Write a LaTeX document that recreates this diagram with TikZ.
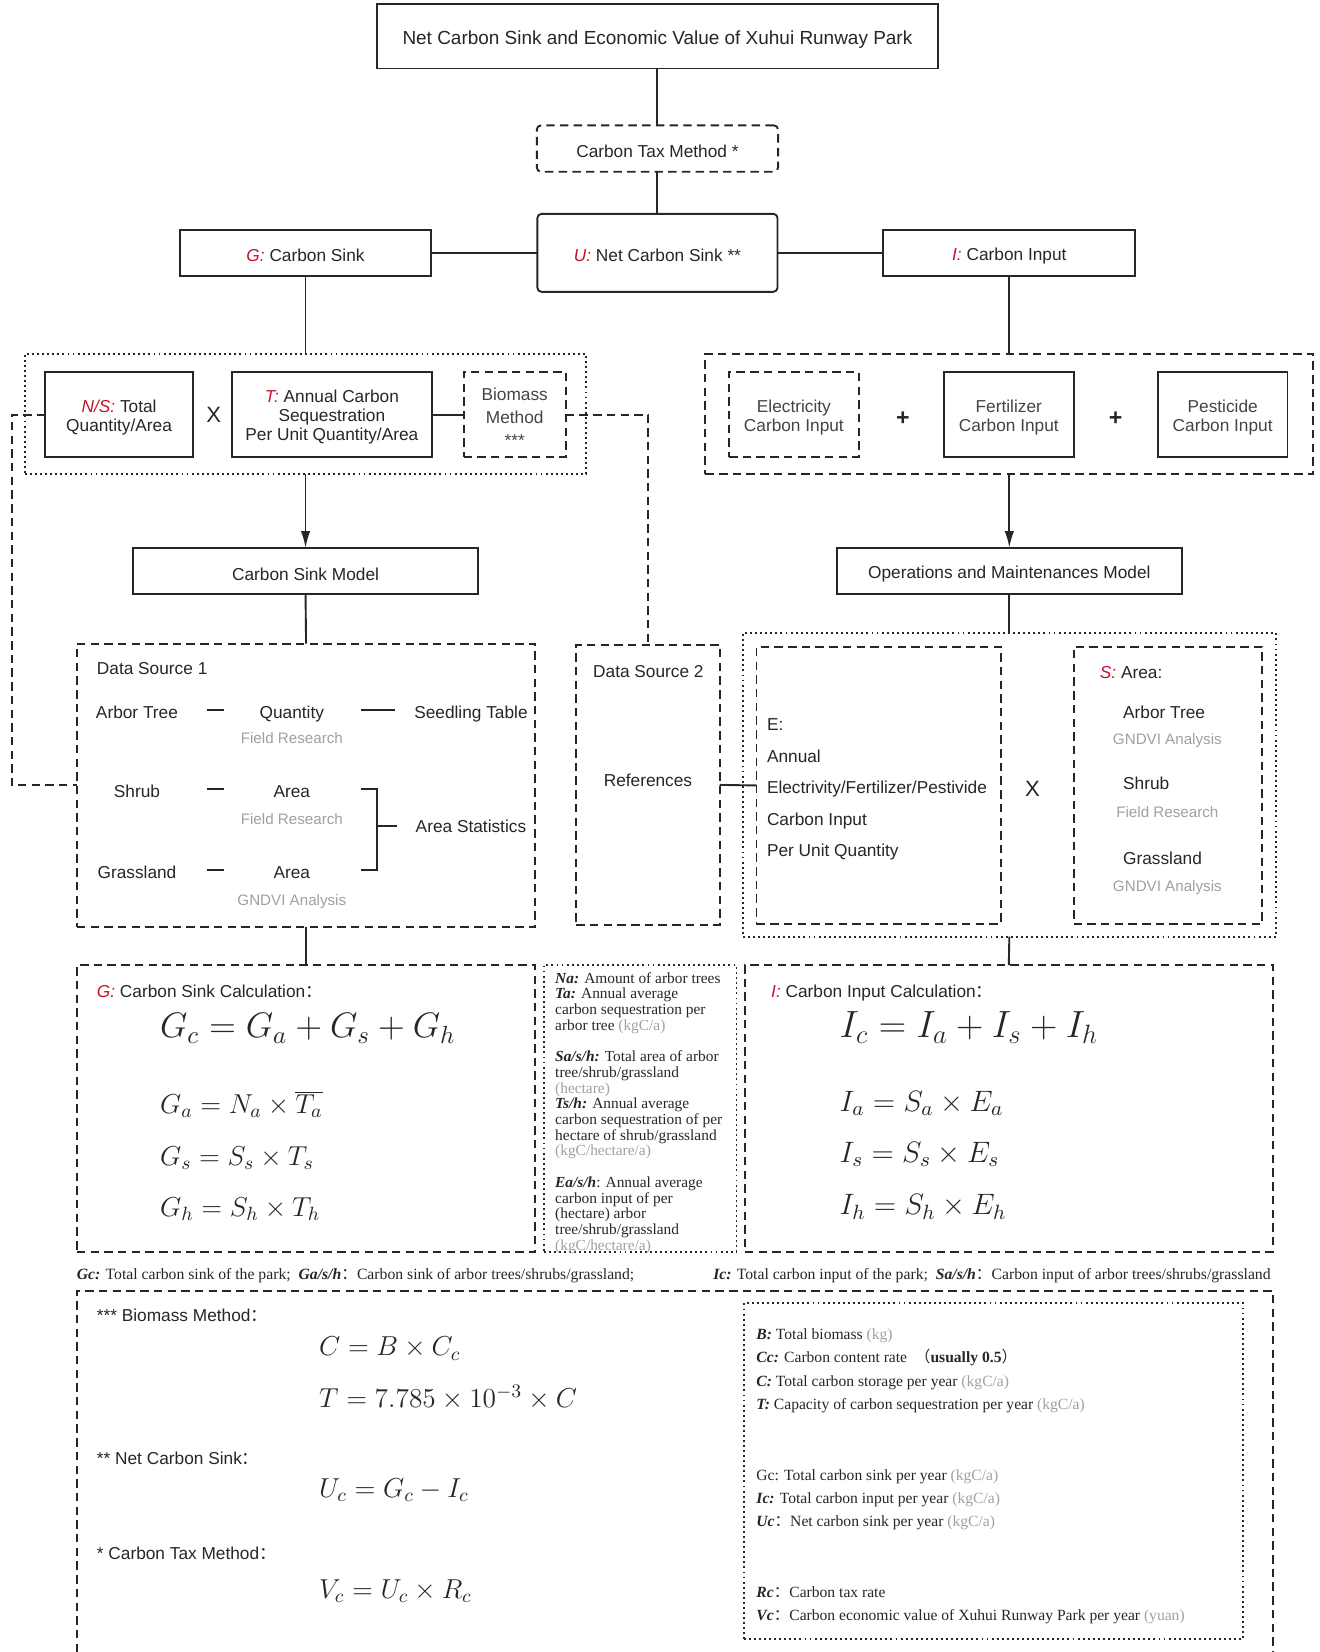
\RequirePackage{fix-cm}
\documentclass[tikz,border=0pt]{standalone}
\usepackage{fontspec}
\setmainfont{Liberation Serif}
\setsansfont{Liberation Sans}
\newfontfamily\cjk{Noto Sans CJK SC}
\usetikzlibrary{arrows.meta}
\definecolor{ink}{HTML}{262626}
\definecolor{redk}{HTML}{C8102E}
\definecolor{graytxt}{HTML}{A0A0A0}
\definecolor{midtxt}{HTML}{444444}
\newcommand\fsz[2]{\fontsize{#1}{#2}\selectfont}
\newcommand\rd[1]{{\color{redk}\itshape #1}}
\newcommand\fc{{\cjk ：}}
\newcommand\bi[1]{\textbf{\textit{#1}}}
\newcommand\gy[1]{{\color{graytxt}#1}}
\newcommand\sdn{\rule{0pt}{8.6pt}}
\begin{document}
\begin{tikzpicture}[x=0.5pt,y=-0.5pt,
  every node/.style={inner sep=0pt, outer sep=0pt, text=ink, font=\sffamily\fsz{8.2}{10}},
  bx/.style 2 args={minimum width=#1*0.5pt, minimum height=#2*0.5pt},
  solidbox/.style={draw=ink, line width=0.9pt, align=center},
  dashbox/.style={draw=ink, line width=0.9pt, dash pattern=on 4pt off 2.5pt, align=center},
  dotbox/.style={draw=ink, line width=0.9pt, dash pattern=on 0.9pt off 1.5pt},
  conn/.style={draw=ink, line width=0.9pt},
  thinconn/.style={draw=ink, line width=0.75pt},
  dconn/.style={conn, dash pattern=on 4pt off 2.5pt},
  arr/.style={conn, -{Latex[length=8pt,width=4.5pt]}},
  lbl/.style={anchor=mid west, yshift=-1pt},
  clbl/.style={anchor=mid, yshift=-1pt},
  glbl/.style={anchor=mid, yshift=-1pt, text=graytxt, font=\sffamily\fsz{7.2}{9}},
  eq/.style={anchor=mid west, yshift=-1.2pt, font=\fsz{13}{15}},
  bigeq/.style={anchor=mid west, yshift=-1.2pt, font=\fsz{16.8}{19}},
  sym/.style={anchor=mid, yshift=-1pt, font=\sffamily\fsz{10.5}{12}},
  note/.style={anchor=mid west, yshift=-0.8pt, font=\rmfamily\fsz{7.4}{9}}
]
\useasboundingbox (0,0) rectangle (1252,1568);

% ---------- top ----------
\node[solidbox, bx={533}{61}, font=\sffamily\fsz{9}{11}] (title) at (624,34.5) {\rule{0pt}{9.4pt}Net Carbon Sink and Economic Value of Xuhui Runway Park};
\node[dashbox, rounded corners=2pt, bx={229}{44}] (tax) at (624,141) {\sdn Carbon Tax Method *};
\node[solidbox, rounded corners=2pt, bx={228}{74}] (U) at (624,240) {\sdn\rd{U:} Net Carbon Sink **};
\node[solidbox, bx={239}{44}] (G) at (290,240) {\sdn\rd{G:} Carbon Sink};
\node[solidbox, bx={239}{44}] (I) at (958,240) {\sdn\rd{I:} Carbon Input};

% ---------- left group ----------
\node[dotbox, bx={533}{114}] (lg) at (290,393) {};
\node[solidbox, bx={140}{81}, font=\sffamily\fsz{8.2}{9}] (NS) at (113,393.5) {\sdn\rd{N/S:} Total\\Quantity/Area};
\node[sym] (x1) at (203,394) {X};
\node[solidbox, bx={190}{81}, font=\sffamily\fsz{8.2}{9}] (T) at (315,393.5) {\sdn\rd{T:} Annual Carbon\\Sequestration\\Per Unit Quantity/Area};
\node[dashbox, bx={97}{81}, text=midtxt, font=\sffamily\fsz{8.2}{10.8}] (bio) at (488.5,393.5) {\sdn Biomass\\Method\\***};

% ---------- right group ----------
\node[dashbox, bx={577}{114}] (rg) at (958,393) {};
\node[dashbox, bx={123}{81}, text=midtxt, font=\sffamily\fsz{8.2}{9}] (elec) at (753.5,393.5) {\sdn Electricity\\Carbon Input};
\node[sym, font=\sffamily\bfseries\fsz{11}{12}] (p1) at (857,397) {+};
\node[solidbox, bx={123}{81}, text=midtxt, font=\sffamily\fsz{8.2}{9}] (fert) at (957.5,393.5) {\sdn Fertilizer\\Carbon Input};
\node[sym, font=\sffamily\bfseries\fsz{11}{12}] (p2) at (1059,397) {+};
\node[solidbox, bx={123}{81}, text=midtxt, font=\sffamily\fsz{8.2}{9}] (pest) at (1160.5,393.5) {\sdn Pesticide\\Carbon Input};

% ---------- models ----------
\node[solidbox, bx={327}{44}] (csm) at (290,542) {\sdn Carbon Sink Model};
\node[solidbox, bx={327}{44}] (omm) at (958,542) {\sdn Operations and Maintenances Model};

% ---------- data source 1 ----------
\node[dashbox, bx={435}{269}] (ds1) at (290.5,745.5) {};
\node[lbl] (ds1t) at (92,634) {Data Source 1};
\node[clbl] (at1) at (130,675) {Arbor Tree};
\node[clbl] (sh1) at (130,750) {Shrub};
\node[clbl] (gr1) at (130,827) {Grassland};
\node[clbl] (q1) at (277,675) {Quantity};
\node[glbl] (fr1) at (277,699) {Field Research};
\node[clbl] (a1) at (277,750) {Area};
\node[glbl] (fr2) at (277,776) {Field Research};
\node[clbl] (a2) at (277,827) {Area};
\node[glbl] (gn1) at (277,853) {GNDVI Analysis};
\node[clbl] (seed) at (447,675) {Seedling Table};
\node[clbl] (ast) at (447,784) {Area Statistics};
\draw[thinconn] (196,674) -- (213,674);
\draw[thinconn] (196,749) -- (213,749);
\draw[thinconn] (196,826) -- (213,826);
\draw[thinconn] (343,674) -- (375,674);
\draw[thinconn] (343,749) -- (358,749) -- (358,826) -- (343,826);
\draw[thinconn] (358,784) -- (377,784);

% ---------- data source 2 ----------
\node[dashbox, bx={136}{266}] (ds2) at (615,745) {};
\node[lbl] (ds2t) at (563,636) {Data Source 2};
\node[clbl] (refs) at (615,740) {References};

% ---------- E x S ----------
\node[dotbox, bx={506}{288}] (rg2) at (958,745) {};
\node[dashbox, bx={232}{263}] (E) at (834,745.5) {};
\node[lbl] (e1) at (728,687) {E:};
\node[lbl] (e2) at (728,717) {Annual};
\node[lbl] (e3) at (728,747) {Electrivity/Fertilizer/Pestivide};
\node[lbl] (e4) at (728,777) {Carbon Input};
\node[lbl] (e5) at (728,806) {Per Unit Quantity};
\node[sym] (x2) at (980,749) {X};
\node[dashbox, bx={179}{263}] (S) at (1108.5,745.5) {};
\node[lbl] (s0) at (1044,637) {\rd{S:} Area:};
\node[lbl] (s1) at (1066,675) {Arbor Tree};
\node[glbl] (s1g) at (1108,700) {GNDVI Analysis};
\node[lbl] (s2) at (1066,743) {Shrub};
\node[glbl] (s2g) at (1108,769) {Field Research};
\node[lbl] (s3) at (1066,814) {Grassland};
\node[glbl] (s3g) at (1108,840) {GNDVI Analysis};

% ---------- calculations ----------
\node[dashbox, bx={435}{272}] (gc) at (290.5,1052) {};
\node[lbl] (gct) at (92,940) {\rd{G:} Carbon Sink Calculation\fc};
\node[bigeq] (g0) at (152,978) {$G_c = G_a + G_s + G_h$};
\node[eq] (g1) at (152,1050) {$G_a = N_a \times \overline{T_a}$};
\node[eq] (g2) at (152,1099) {$G_s = S_s \times T_s$};
\node[eq] (g3) at (152,1148) {$G_h = S_h \times T_h$};

\node[dotbox, bx={183}{272}] (nb) at (607.5,1052) {};
\node[anchor=north west, align=left, font=\rmfamily\fsz{7.3}{7.45}] (ntxt) at (527,923) {%
\bi{Na:} Amount of arbor trees\\
\bi{Ta:} Annual average\\
carbon sequestration per\\
arbor tree \gy{(kgC/a)}\\[7.45pt]
\bi{Sa/s/h:} Total area of arbor\\
tree/shrub/grassland\\
\gy{(hectare)}\\
\bi{Ts/h:} Annual average\\
carbon sequestration of per\\
hectare of shrub/grassland\\
\gy{(kgC/hectare/a)}\\[7.45pt]
\bi{Ea/s/h}: Annual average\\
carbon input of per\\
(hectare) arbor\\
tree/shrub/grassland\\
\gy{(kgC/hectare/a)}};

\node[dashbox, bx={501}{272}] (ic) at (957.5,1052) {};
\node[lbl] (ict) at (732,940) {\rd{I:} Carbon Input Calculation\fc};
\node[bigeq, font=\fsz{18}{20}] (i0) at (797,978) {$I_c = I_a + I_s + I_h$};
\node[eq, font=\fsz{14}{16}] (i1) at (797,1048) {$I_a = S_a \times E_a$};
\node[eq, font=\fsz{14}{16}] (i2) at (797,1096) {$I_s = S_s \times E_s$};
\node[eq, font=\fsz{14}{16}] (i3) at (797,1146) {$I_h = S_h \times E_h$};

% ---------- footnote line ----------
\node[note, font=\rmfamily\fsz{7.45}{8}] (fn1) at (73,1208) {\bi{Gc:} Total carbon sink of the park;\ \ \bi{Ga/s/h}\fc Carbon sink of arbor trees/shrubs/grassland;};
\node[note, font=\rmfamily\fsz{7.45}{8}] (fn2) at (677,1208) {\bi{Ic:} Total carbon input of the park;\ \ \bi{Sa/s/h}\fc Carbon input of arbor trees/shrubs/grassland};

% ---------- bottom box ----------
\draw[dconn] (73,1568) -- (73,1225) -- (1208,1225) -- (1208,1568);
\node[lbl] (bm) at (92,1248) {*** Biomass Method\fc};
\node[eq] (b1) at (303,1280) {$C = B \times C_c$};
\node[eq] (b2) at (303,1329) {$T = 7.785 \times 10^{-3} \times C$};
\node[lbl] (nc) at (92,1383) {** Net Carbon Sink\fc};
\node[eq] (b3) at (303,1414) {$U_c = G_c - I_c$};
\node[lbl] (ctm) at (92,1474) {* Carbon Tax Method\fc};
\node[eq] (b4) at (303,1510) {$V_c = U_c \times R_c$};

\node[dotbox, bx={474}{319}] (bn) at (943,1396.5) {};
\node[note] (n1) at (718,1265) {\bi{B:} Total biomass \gy{(kg)}};
\node[note] (n2) at (718,1287) {\bi{Cc:} Carbon content rate \ {\cjk （}\textbf{usually 0.5}{\cjk ）}};
\node[note] (n3) at (718,1310) {\bi{C:} Total carbon storage per year \gy{(kgC/a)}};
\node[note] (n4) at (718,1332) {\bi{T:} Capacity of carbon sequestration per year \gy{(kgC/a)}};
\node[note] (n5) at (718,1399) {Gc: Total carbon sink per year \gy{(kgC/a)}};
\node[note] (n6) at (718,1421) {\bi{Ic:} Total carbon input per year \gy{(kgC/a)}};
\node[note] (n7) at (718,1443) {\bi{Uc}\fc Net carbon sink per year \gy{(kgC/a)}};
\node[note] (n8) at (718,1510) {\bi{Rc}\fc Carbon tax rate};
\node[note] (n9) at (718,1532) {\bi{Vc}\fc Carbon economic value of Xuhui Runway Park per year \gy{(yuan)}};

% ---------- connectors ----------
\draw[conn] (title.south) -- (tax.north);
\draw[conn] (tax.south) -- (U.north);
\draw[conn] (G.east) -- (U.west);
\draw[conn] (U.east) -- (I.west);
\draw[conn] (G.south) -- (lg.north);
\draw[conn] (I.south) -- (rg.north);
\draw[arr] (lg.south) -- (csm.north);
\draw[arr] (rg.south) -- (omm.north);
\draw[conn] (csm.south) -- (ds1.north);
\draw[conn] (omm.south) -- (rg2.north);
\draw[conn] (ds1.south) -- (gc.north);
\draw[conn] (rg2.south) -- (ic.north);
\draw[conn] (T.east) -- (bio.west);
\coordinate (lcorner) at (11,393.5);
\draw[dconn] (NS.west) -- (lcorner) |- (ds1.west);
\draw[dconn] (bio.east) -| (ds2.north);
\draw[conn] (ds2.east) -- (E.west);
\end{tikzpicture}
\end{document}
